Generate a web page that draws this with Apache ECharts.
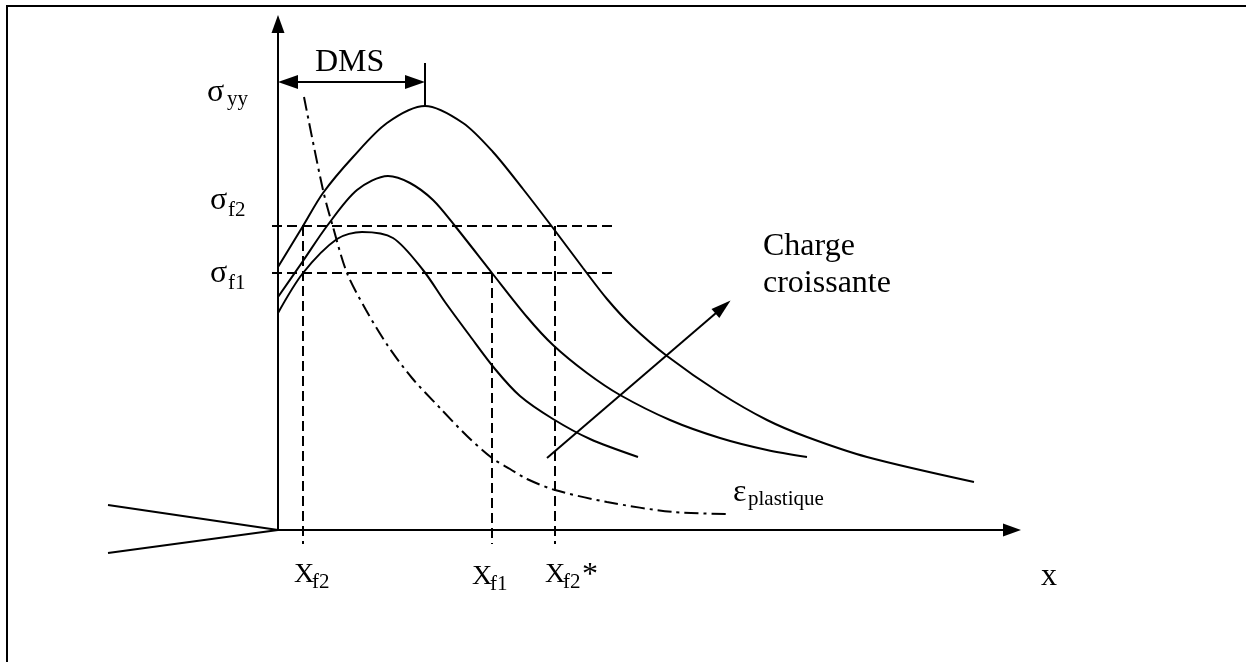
<!DOCTYPE html>
<html>
<head>
<meta charset="utf-8">
<title>Contrainte σyy en pointe de fissure</title>
<script src="https://cdn.jsdelivr.net/npm/echarts@6/dist/echarts.min.js"></script>
<style>
    html, body { margin: 0; padding: 0; background: #fff; }
    #chart { width: 1246px; height: 662px; }
</style>
</head>
<body>
<div id="chart"></div>
<script>
// ============================================
// Données (x : distance à la pointe, y : contrainte)
// ============================================

// courbe de contrainte, charge la plus faible
const curveLow = [
    [0, 217], [25, 257], [59, 291], [84, 298], [115, 292], [145, 260],
    [167, 228], [192, 194], [217, 161], [242, 134], [275, 111], [312, 91], [360, 73]
];
// charge intermédiaire
const curveMid = [
    [0, 233], [25, 269], [49, 304], [79, 340], [110, 354], [132, 347], [155, 330],
    [177, 304], [214, 257], [249, 213], [275, 185], [309, 157], [342, 135],
    [392, 110], [442, 92], [489, 80], [529, 73]
];
// charge la plus forte
const curveHigh = [
    [0, 263], [25, 304], [45, 337], [75, 373], [109, 407], [147, 424], [185, 407],
    [215, 378], [245, 341], [275, 302], [305, 262], [329, 231], [354, 204],
    [389, 174], [442, 137], [489, 110], [529, 93], [589, 73], [696, 48]
];
// déformation plastique (trait mixte)
const plasticStrain = [
    [26, 433], [45, 340], [55, 303], [69, 257], [88, 220], [110, 184], [134, 152],
    [162, 122], [189, 94], [214, 72], [232, 61], [249, 51], [277, 40], [329, 28],
    [395, 18], [452, 16]
];

// niveaux de rupture et abscisses associées
const sigmaLevels = [304, 257];         // σf2, σf1
const sigmaGuideSpan = [-6, 334];
const xMarks = [25, 214, 277];          // Xf2, Xf1, Xf2*
const xMarkTops = [304, 257, 304];
const xMarkBottom = -14;

// repère, fissure, DMS et flèche de charge
const xAxisEnd = [734, 0];
const yAxisEnd = [0, 506];
const crackFlanks = [[-170, 25], [-170, -23]];
const dmsSpan = [10, 137];
const dmsLevel = 448;
const dmsTick = [147, 467, 424];
const loadArrow = [[269, 72], [445, 223]];

// ============================================
// Graphique
// ============================================

const chart = echarts.init(document.getElementById('chart'));

const solid = { color: '#000', width: 2, type: 'solid' };
const dashed = { color: '#000', width: 2, type: [10, 5] };

function seg(a, b, style, endSymbol, endSize, startSymbol) {
    return [
        { coord: a, symbol: startSymbol || 'none', symbolSize: endSize || 1, lineStyle: style },
        { coord: b, symbol: endSymbol || 'none', symbolSize: endSize || 1 }
    ];
}

const marks = [];
// axes
marks.push(seg([0, 0], xAxisEnd, solid, 'triangle', [13, 18]));
marks.push(seg([0, 0], yAxisEnd, solid, 'triangle', [13, 18]));
// fissure
crackFlanks.forEach(p => marks.push(seg(p, [0, 0], solid)));
// niveaux σf
sigmaLevels.forEach(v => marks.push(seg([sigmaGuideSpan[0], v], [sigmaGuideSpan[1], v], dashed)));
// abscisses Xf
xMarks.forEach((x, i) => marks.push(seg([x, xMarkTops[i]], [x, xMarkBottom], dashed)));
// DMS
marks.push(seg([dmsSpan[0], dmsLevel], [dmsSpan[1], dmsLevel], solid, 'triangle', [14, 20], 'triangle'));
marks.push(seg([dmsTick[0], dmsTick[1]], [dmsTick[0], dmsTick[2]], solid));
// charge croissante
marks.push(seg(loadArrow[0], loadArrow[1], solid, 'triangle', [12, 20]));

function curve(data, lineStyle) {
    return {
        type: 'line',
        data: data,
        smooth: 0.3,
        showSymbol: false,
        silent: true,
        lineStyle: lineStyle
    };
}

const font = 'Liberation Serif';

// texte positionné sur sa ligne de base
function label(x, baseline, text, size) {
    return {
        type: 'text',
        x: x,
        y: baseline - 0.3 * size,
        silent: true,
        style: {
            text: text,
            fontFamily: font,
            fontSize: size,
            fill: '#000',
            align: 'left',
            verticalAlign: 'middle'
        }
    };
}

const big = 32;
const mid = 28;
const small = 21;

chart.setOption({
    animation: false,
    backgroundColor: '#fff',
    color: ['#000'],
    grid: { left: 0, right: 0, top: 0, bottom: 0 },
    xAxis: { type: 'value', min: -278, max: 968, show: false },
    yAxis: { type: 'value', min: -132, max: 530, show: false },
    series: [
        curve(curveLow, solid),
        curve(curveMid, solid),
        curve(curveHigh, solid),
        curve(plasticStrain, { color: '#000', width: 2, type: [14, 5, 3, 5] }),
        {
            type: 'line',
            data: [],
            itemStyle: { color: '#000' },
            markLine: {
                silent: true,
                animation: false,
                label: { show: false },
                emphasis: { disabled: true },
                lineStyle: solid,
                data: marks
            }
        }
    ],
    graphic: [
        // cadre
        {
            type: 'rect',
            shape: { x: 7, y: 6, width: 1400, height: 800 },
            style: { fill: 'none', stroke: '#000', lineWidth: 2 },
            silent: true
        },
        label(315, 72, 'DMS', big),
        label(207, 102, 'σ', big), label(227, 106, 'yy', small),
        label(210, 210, 'σ', big), label(228, 217, 'f2', small),
        label(210, 283, 'σ', big), label(228, 290, 'f1', small),
        label(294, 583, 'X', mid), label(312, 589, 'f2', small),
        label(472, 585, 'X', mid), label(490, 591, 'f1', small),
        label(545, 583, 'X', mid), label(563, 589, 'f2', small), label(582, 585, '*', big),
        label(1041, 586, 'x', big),
        label(733, 502, 'ε', big), label(748, 506, 'plastique', small),
        label(763, 256, 'Charge', big),
        label(763, 293, 'croissante', big)
    ]
});
</script>
</body>
</html>
